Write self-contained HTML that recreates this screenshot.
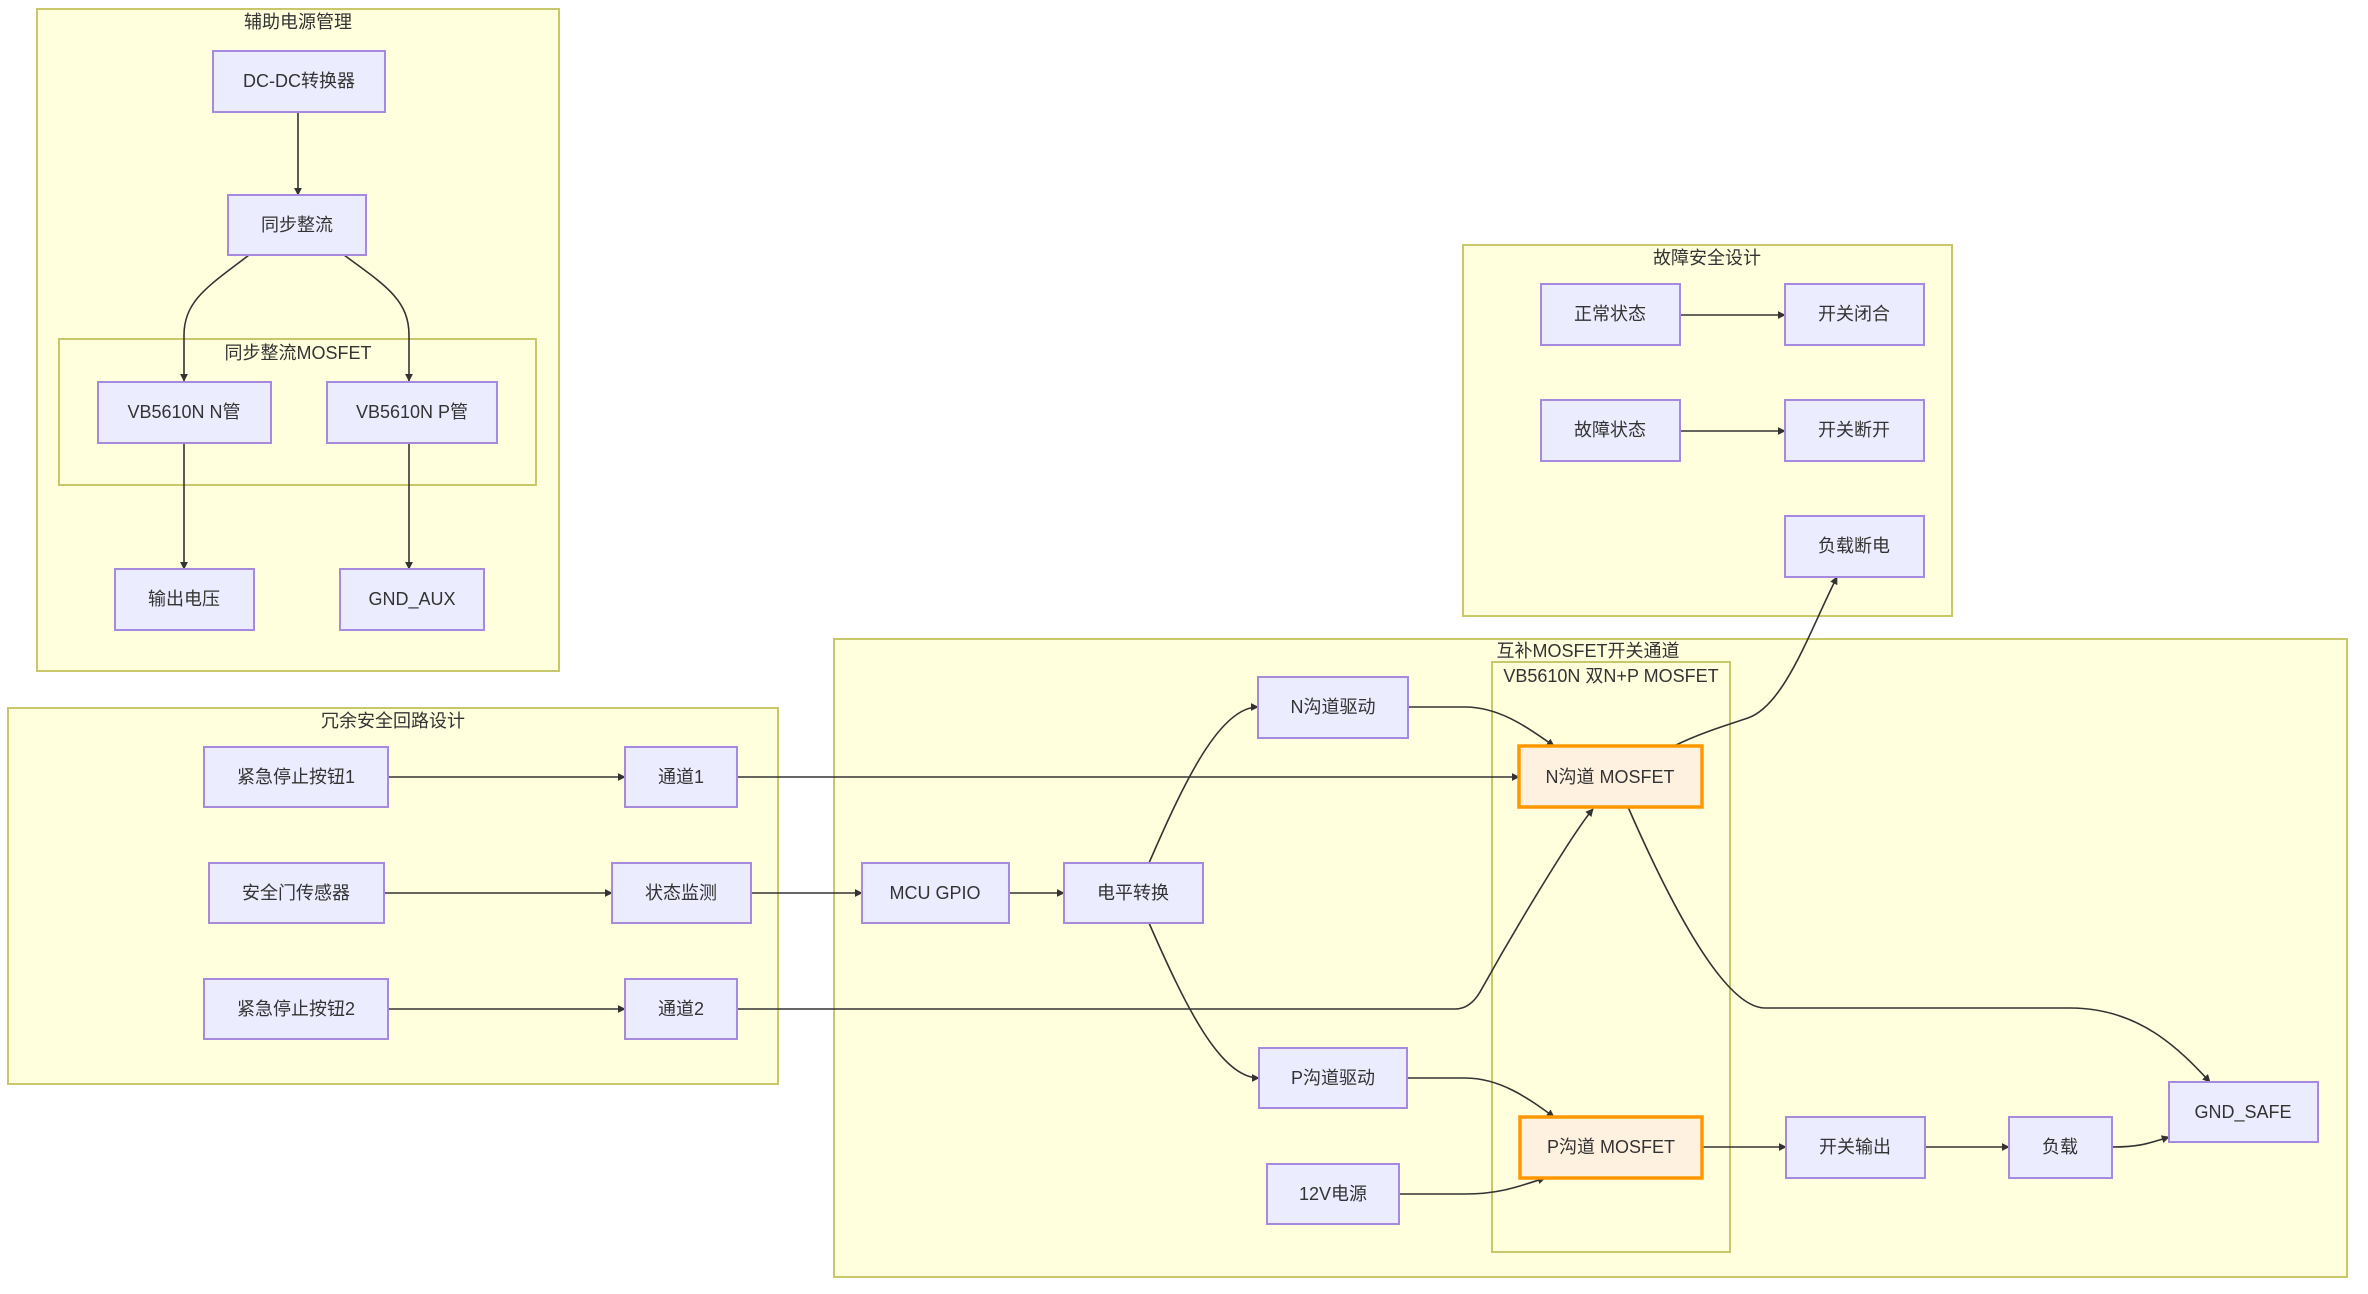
<!DOCTYPE html>
<html><head><meta charset="utf-8"><style>
html,body{margin:0;padding:0;background:#fff;}
svg{display:block;}
text{font-family:"Liberation Sans","Noto Sans CJK SC",sans-serif;font-size:18px;fill:#333;text-anchor:middle;dominant-baseline:central;}
.g{fill:#ffffde;stroke:#c8c86a;stroke-width:2;}
.n{fill:#ececff;stroke:#a58ae0;stroke-width:2;}
.o{fill:#fff1e0;stroke:#ff9800;stroke-width:3.5;}
.e{fill:none;stroke:#333;stroke-width:1.6;}
</style></head><body>
<svg width="2368" height="1294" viewBox="0 0 2368 1294" xmlns="http://www.w3.org/2000/svg">
<defs><marker id="a" viewBox="0 0 10 10" refX="9" refY="5" markerWidth="8" markerHeight="8" orient="auto" markerUnits="userSpaceOnUse"><path d="M0,0 L10,5 L0,10 z" fill="#333"/></marker></defs>

<!-- groups -->
<rect class="g" x="37" y="9" width="522" height="662"/>
<text x="298" y="22">辅助电源管理</text>
<rect class="g" x="59" y="339" width="477" height="146"/>
<text x="298" y="353">同步整流MOSFET</text>

<rect class="g" x="1463" y="245" width="489" height="371"/>
<text x="1707" y="258">故障安全设计</text>

<rect class="g" x="8" y="708" width="770" height="376"/>
<text x="393" y="721">冗余安全回路设计</text>

<rect class="g" x="834" y="639" width="1513" height="638"/>
<text x="1588" y="651">互补MOSFET开关通道</text>
<rect class="g" x="1492" y="662" width="238" height="590"/>
<text x="1611" y="676">VB5610N 双N+P MOSFET</text>

<!-- edges -->
<g class="e" marker-end="url(#a)">
<path class="e" d="M298,112 L298,195"/>
<path class="e" d="M249,255 C210,285 184,300 184,335 L184,381"/>
<path class="e" d="M344,255 C385,285 409,300 409,335 L409,381"/>
<path class="e" d="M184,443 L184,569"/>
<path class="e" d="M409,443 L409,569"/>
<path class="e" d="M1680,315 L1785,315"/>
<path class="e" d="M1680,431 L1785,431"/>
<path class="e" d="M388,777 L625,777"/>
<path class="e" d="M737,777 L1519,777"/>
<path class="e" d="M384,893 L612,893"/>
<path class="e" d="M751,893 L862,893"/>
<path class="e" d="M1009,893 L1064,893"/>
<path class="e" d="M388,1009 L625,1009"/>
<path class="e" d="M737,1009 L1455,1009 Q1470,1009 1480,992 C1520,920 1575,830 1593,809"/>
<path class="e" d="M1628,807 C1660,880 1720,1008 1765,1008 L2070,1008 C2140,1008 2180,1050 2210,1082"/>
<path class="e" d="M1149,863 C1185,780 1220,707 1258,707"/>
<path class="e" d="M1149,923 C1185,1005 1220,1078 1259,1078"/>
<path class="e" d="M1408,707 L1465,707 C1500,707 1528,728 1554,746"/>
<path class="e" d="M1407,1078 L1465,1078 C1500,1078 1528,1098 1554,1117"/>
<path class="e" d="M1399,1194 L1465,1194 C1500,1194 1520,1186 1545,1178"/>
<path class="e" d="M1674,746 C1700,733 1730,724 1748,718 C1785,705 1810,630 1837,577"/>
<path class="e" d="M1702,1147 L1786,1147"/>
<path class="e" d="M1925,1147 L2009,1147"/>
<path class="e" d="M2112,1147 C2140,1147 2150,1143 2169,1137"/>
</g>

<!-- nodes -->
<rect class="n" x="213" y="51" width="172" height="61"/><text x="299" y="81">DC-DC转换器</text>
<rect class="n" x="228" y="195" width="138" height="60"/><text x="297" y="225">同步整流</text>
<rect class="n" x="98" y="382" width="173" height="61"/><text x="184" y="412">VB5610N N管</text>
<rect class="n" x="327" y="382" width="170" height="61"/><text x="412" y="412">VB5610N P管</text>
<rect class="n" x="115" y="569" width="139" height="61"/><text x="184" y="599">输出电压</text>
<rect class="n" x="340" y="569" width="144" height="61"/><text x="412" y="599">GND_AUX</text>

<rect class="n" x="1541" y="284" width="139" height="61"/><text x="1610" y="314">正常状态</text>
<rect class="n" x="1785" y="284" width="139" height="61"/><text x="1854" y="314">开关闭合</text>
<rect class="n" x="1541" y="400" width="139" height="61"/><text x="1610" y="430">故障状态</text>
<rect class="n" x="1785" y="400" width="139" height="61"/><text x="1854" y="430">开关断开</text>
<rect class="n" x="1785" y="516" width="139" height="61"/><text x="1854" y="546">负载断电</text>

<rect class="n" x="204" y="747" width="184" height="60"/><text x="296" y="777">紧急停止按钮1</text>
<rect class="n" x="625" y="747" width="112" height="60"/><text x="681" y="777">通道1</text>
<rect class="n" x="209" y="863" width="175" height="60"/><text x="296" y="893">安全门传感器</text>
<rect class="n" x="612" y="863" width="139" height="60"/><text x="681" y="893">状态监测</text>
<rect class="n" x="204" y="979" width="184" height="60"/><text x="296" y="1009">紧急停止按钮2</text>
<rect class="n" x="625" y="979" width="112" height="60"/><text x="681" y="1009">通道2</text>

<rect class="n" x="862" y="863" width="147" height="60"/><text x="935" y="893">MCU GPIO</text>
<rect class="n" x="1064" y="863" width="139" height="60"/><text x="1133" y="893">电平转换</text>
<rect class="n" x="1258" y="677" width="150" height="61"/><text x="1333" y="707">N沟道驱动</text>
<rect class="n" x="1259" y="1048" width="148" height="60"/><text x="1333" y="1078">P沟道驱动</text>
<rect class="n" x="1267" y="1164" width="132" height="60"/><text x="1333" y="1194">12V电源</text>
<rect class="o" x="1519" y="746" width="183" height="61"/><text x="1610" y="777">N沟道 MOSFET</text>
<rect class="o" x="1520" y="1117" width="182" height="61"/><text x="1611" y="1147">P沟道 MOSFET</text>
<rect class="n" x="1786" y="1117" width="139" height="61"/><text x="1855" y="1147">开关输出</text>
<rect class="n" x="2009" y="1117" width="103" height="61"/><text x="2060" y="1147">负载</text>
<rect class="n" x="2169" y="1082" width="149" height="60"/><text x="2243" y="1112">GND_SAFE</text>
</svg>
</body></html>
